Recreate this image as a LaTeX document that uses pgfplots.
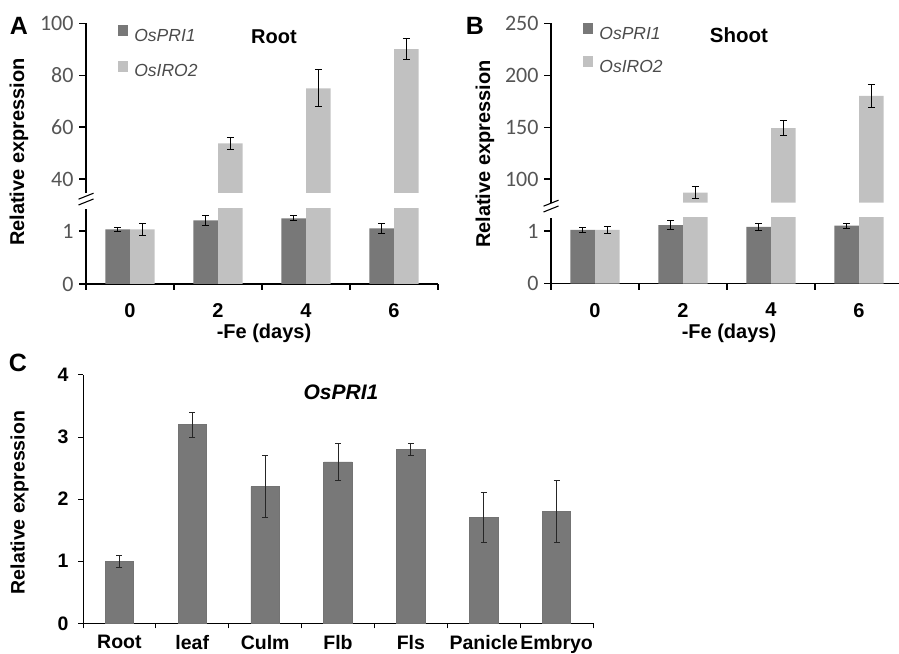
\documentclass[border=0pt]{standalone}
\usepackage{fontspec}
\setmainfont{Liberation Sans}
\newfontfamily\carlito{Carlito}
\usepackage{pgfplots}
\usepackage{pgfplotstable}
\pgfplotsset{compat=1.18}
\definecolor{darkbar}{RGB}{120,120,120}
\definecolor{lightbar}{RGB}{193,193,193}
\definecolor{tickgray}{RGB}{85,85,85}
\definecolor{leggray}{RGB}{75,75,75}

\pgfplotstableread{
x y e
0 1.03 0.04
1 1.20 0.10
2 1.24 0.05
3 1.05 0.10
}\rootpri
\pgfplotstableread{
x y e
0 1.03 0.11
1 53.7 2.2
2 74.9 7.1
3 90.0 4.1
}\rootiro
\pgfplotstableread{
x y e
0 1.02 0.045
1 1.11 0.08
2 1.08 0.07
3 1.10 0.05
}\shootpri
\pgfplotstableread{
x y e
0 1.02 0.07
1 86.8 5.8
2 149.0 7.4
3 180.0 10.9
}\shootiro
\pgfplotstableread{
x y e
0 1.0 0.1
1 3.2 0.2
2 2.2 0.5
3 2.6 0.3
4 2.8 0.1
5 1.7 0.4
6 1.8 0.5
}\tissue

\pgfplotsset{
  brk/.style={
    anchor=south west, scale only axis, width=352pt, xmin=-0.5, xmax=3.5,
    axis y line*=left,
    tick align=outside,
    major tick length=7pt,
    axis line style={line width=1.3pt, black},
    y tick style={line width=1.2pt, black},
    yticklabel style={font=\carlito\fontsize{22}{22}\selectfont, text=tickgray, xshift=-2pt},
    /pgf/number format/assume math mode=true,
    ybar, bar width=0.28,
    error bars/error bar style={line width=1pt, draw=black},
    error bars/error mark options={rotate=90, mark size=3.5pt, line width=1pt, draw=black},
  },
  lowbrk/.style={
    axis x line*=bottom,
    xtick={0,1,2,3}, xticklabels={0,2,4,6},
    major x tick style={draw=none},
    minor xtick={-0.5,0.5,1.5,2.5,3.5},
    minor tick length=6pt,
    minor x tick style={line width=1.2pt, black},
    xticklabel style={font=\bfseries\fontsize{20}{20}\selectfont, text=black, yshift=-9pt},
  },
  upbrk/.style={
    axis x line=none,
    legend style={draw=none, fill=none, anchor=north west,
      font=\itshape\fontsize{17.5}{17.5}\selectfont, text=leggray,
      row sep=13pt, column sep=4pt, inner sep=0pt, cells={anchor=west}},
    legend image code/.code={\path[#1, draw=none] (0pt,0pt) rectangle (10.5pt,10.5pt);},
  },
}

\begin{document}
\begin{tikzpicture}
\path[use as bounding box] (0,0) rectangle (899pt,653pt);

% ---------- Panel A ----------
\begin{axis}[brk, lowbrk, at={(86pt,369pt)}, height=75pt, ymin=0, ymax=1.415, ytick={0,1}]
\addplot[fill=darkbar, draw=none, bar shift=-0.14, error bars/.cd, y dir=both, y explicit] table[x=x,y=y,y error=e]{\rootpri};
\addplot[fill=lightbar, draw=none, bar shift=0.14, error bars/.cd, y dir=both, y explicit] table[x=x,y=y,y error=e]{\rootiro};
\end{axis}
\begin{axis}[brk, upbrk, at={(86pt,460pt)}, height=169.7pt, ymin=34.6, ymax=100, ytick={40,60,80,100},
  legend style={at={(0.09,0.99)}, row sep=16.5pt}]
\addlegendimage{fill=darkbar, draw=none}
\addlegendentry{OsPRI1}
\addlegendimage{fill=lightbar, draw=none}
\addlegendentry{OsIRO2}
\addplot[fill=lightbar, draw=none, bar shift=0.14, restrict y to domain=30:1000, forget plot,
  error bars/.cd, y dir=both, y explicit] table[x=x,y=y,y error=e]{\rootiro};
\end{axis}
\draw[line width=1.1pt] (78.5pt,448pt) -- (93.5pt,454pt);
\draw[line width=1.1pt] (78.5pt,453.8pt) -- (93.5pt,459.8pt);
\node[font=\bfseries\fontsize{20}{20}\selectfont] at (274pt,616pt) {Root};
\node[font=\bfseries\fontsize{25}{25}\selectfont] at (19pt,627pt) {A};
\node[font=\bfseries\fontsize{20}{20}\selectfont, rotate=90] at (19pt,501pt) {Relative expression};
\node[font=\bfseries\fontsize{20}{20}\selectfont] at (264pt,320pt) {-Fe (days)};

% ---------- Panel B ----------
\begin{axis}[brk, lowbrk, at={(551pt,369.3pt)}, height=66pt, ymin=0, ymax=1.252, ytick={0,1}]
\addplot[fill=darkbar, draw=none, bar shift=-0.14, error bars/.cd, y dir=both, y explicit] table[x=x,y=y,y error=e]{\shootpri};
\addplot[fill=lightbar, draw=none, bar shift=0.14, error bars/.cd, y dir=both, y explicit] table[x=x,y=y,y error=e]{\shootiro};
\end{axis}
\begin{axis}[brk, upbrk, at={(551pt,450.3pt)}, height=179.4pt, ymin=77.2, ymax=250, ytick={100,150,200,250},
  legend style={at={(0.09,1.0)}, row sep=13.5pt}]
\addlegendimage{fill=darkbar, draw=none}
\addlegendentry{OsPRI1}
\addlegendimage{fill=lightbar, draw=none}
\addlegendentry{OsIRO2}
\addplot[fill=lightbar, draw=none, bar shift=0.14, restrict y to domain=60:1000, forget plot,
  error bars/.cd, y dir=both, y explicit] table[x=x,y=y,y error=e]{\shootiro};
\end{axis}
\draw[line width=1.1pt] (543.5pt,441pt) -- (558.5pt,447pt);
\draw[line width=1.1pt] (543.5pt,446.8pt) -- (558.5pt,452.8pt);
\node[font=\bfseries\fontsize{20.5}{20.5}\selectfont] at (739pt,618pt) {Shoot};
\node[font=\bfseries\fontsize{25}{25}\selectfont] at (475pt,627pt) {B};
\node[font=\bfseries\fontsize{20}{20}\selectfont, rotate=90] at (485pt,499pt) {Relative expression};
\node[font=\bfseries\fontsize{20}{20}\selectfont] at (729pt,320pt) {-Fe (days)};

% ---------- Panel C ----------
\begin{axis}[anchor=south west, at={(83pt,29.7pt)}, scale only axis, width=510pt, height=248.3pt,
  xmin=-0.5, xmax=6.5, ymin=0, ymax=4,
  axis x line*=bottom, axis y line*=left, tick align=outside,
  axis line style={line width=1pt, black},
  ytick={0,1,2,3,4}, major tick length=5pt,
  y tick style={line width=1pt, black},
  xtick={0,1,2,3,4,5,6}, xticklabels={Root,leaf,Culm,Flb,Fls,Panicle,Embryo},
  major x tick style={draw=none},
  minor xtick={-0.5,0.5,1.5,2.5,3.5,4.5,5.5,6.5}, minor tick length=5pt,
  minor x tick style={line width=1pt, black},
  /pgf/number format/assume math mode=true,
  ticklabel style={font=\bfseries\fontsize{19.5}{19.5}\selectfont, text=black},
  xticklabel style={yshift=-3.5pt},
  yticklabel style={xshift=-6pt},
  ybar, bar width=0.39,
  error bars/error bar style={line width=0.9pt, draw=black!85},
  error bars/error mark options={rotate=90, mark size=3pt, line width=0.9pt, draw=black!85},
]
\addplot[fill=darkbar, draw=black!55, line width=0.6pt, bar shift=0, error bars/.cd, y dir=both, y explicit] table[x=x,y=y,y error=e]{\tissue};
\end{axis}
\node[font=\bfseries\itshape\fontsize{21}{21}\selectfont] at (341pt,261pt) {OsPRI1};
\node[font=\bfseries\fontsize{25}{25}\selectfont] at (18pt,290pt) {C};
\node[font=\bfseries\fontsize{19.5}{19.5}\selectfont, rotate=90] at (19.5pt,150.5pt) {Relative expression};
\end{tikzpicture}
\end{document}
